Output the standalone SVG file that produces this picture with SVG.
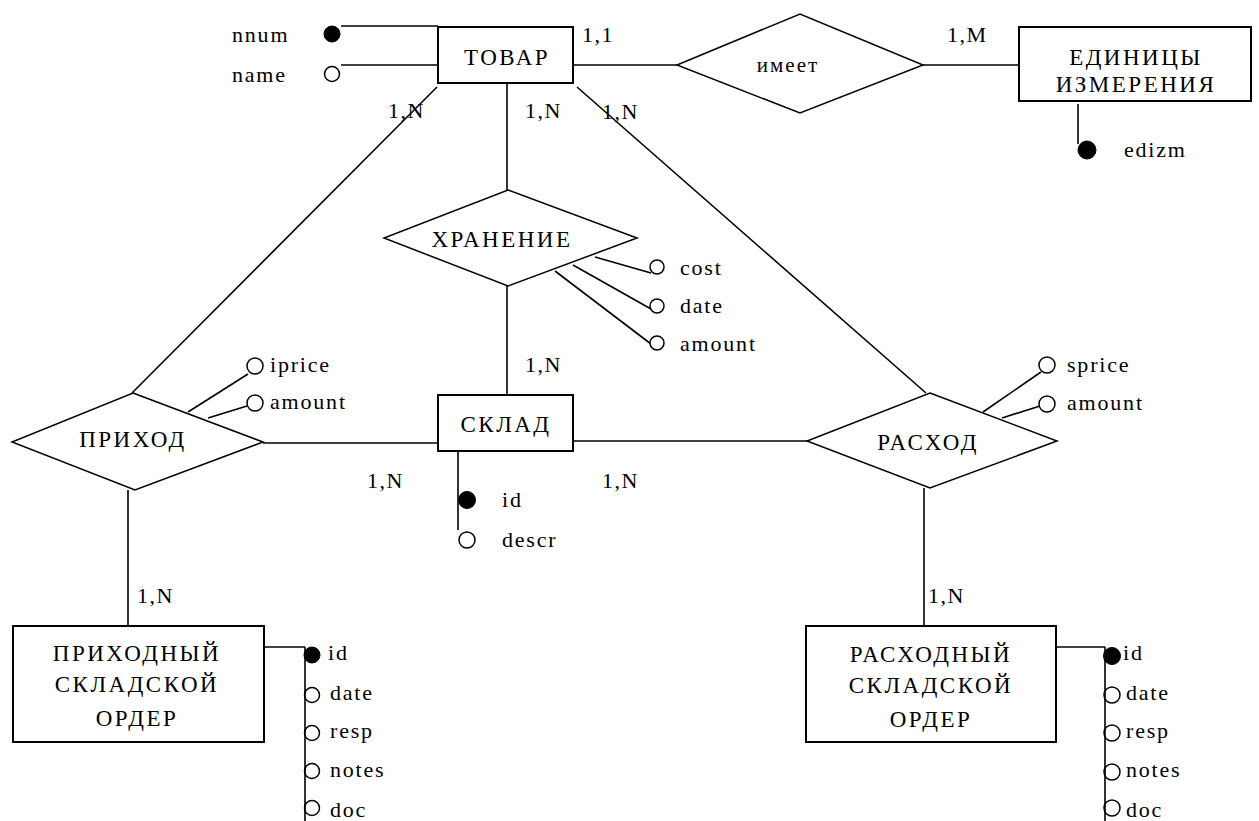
<svg xmlns="http://www.w3.org/2000/svg" width="1259" height="821" viewBox="0 0 1259 821" font-family="'Liberation Serif', 'Times New Roman', 'DejaVu Serif', serif">
<style>
text{fill:#000}
.ent{font-size:23px;letter-spacing:2.5px;text-anchor:middle}
.att{font-size:22px;letter-spacing:1.8px}
.card{font-size:22px;letter-spacing:1.5px}
.rel{font-size:21px;letter-spacing:2px;text-anchor:middle}
.box{fill:#fff;stroke:#000;stroke-width:2}
.dia{fill:#fff;stroke:#000;stroke-width:1.5}
.ln{stroke:#000;stroke-width:1.6;fill:none}
.key{fill:#000;stroke:#000;stroke-width:1}
.opt{fill:#fff;stroke:#000;stroke-width:1.5}
.optn{fill:none;stroke:#000;stroke-width:1.5}
</style>
<rect width="1259" height="821" fill="#fff"/>
<g id="connectors">
<line class="ln" x1="574" y1="65" x2="677" y2="65"/>
<line class="ln" x1="923" y1="65" x2="1019" y2="65"/>
<line class="ln" x1="507" y1="83" x2="507" y2="190"/>
<line class="ln" x1="507" y1="286" x2="507" y2="395"/>
<line class="ln" x1="437" y1="87" x2="132" y2="393"/>
<line class="ln" x1="577" y1="87" x2="926" y2="393"/>
<line class="ln" x1="263" y1="443" x2="438" y2="443"/>
<line class="ln" x1="573" y1="441" x2="807" y2="441"/>
<line class="ln" x1="128" y1="490" x2="128" y2="626"/>
<line class="ln" x1="924" y1="488" x2="924" y2="626"/>
<text class="card" x="582" y="42">1,1</text>
<text class="card" x="947" y="42">1,M</text>
<text class="card" x="388" y="118">1,N</text>
<text class="card" x="525" y="118">1,N</text>
<text class="card" x="602" y="119">1,N</text>
<text class="card" x="525" y="372">1,N</text>
<text class="card" x="367" y="488">1,N</text>
<text class="card" x="602" y="488">1,N</text>
<text class="card" x="137" y="603">1,N</text>
<text class="card" x="928" y="603">1,N</text>
</g>
<g id="tovar">
<line class="ln" x1="341" y1="26" x2="438" y2="26"/>
<line class="ln" x1="341" y1="65" x2="438" y2="65"/>
<circle class="key" cx="332" cy="34" r="8"/>
<circle class="opt" cx="332" cy="74" r="7.5"/>
<text class="att" x="232" y="42">nnum</text>
<text class="att" x="232" y="82">name</text>
<rect class="box" x="438" y="27" width="135" height="56"/>
<text class="ent" x="507" y="65">ТОВАР</text>
</g>
<g id="imeet">
<polygon class="dia" points="677,65 800,14 923,65 800,113"/>
<text class="rel" x="788" y="72">имеет</text>
</g>
<g id="edinicy">
<rect class="box" x="1019" y="27" width="232" height="74"/>
<text class="ent" x="1136" y="65">ЕДИНИЦЫ</text>
<text class="ent" x="1136" y="92">ИЗМЕРЕНИЯ</text>
<line class="ln" x1="1078" y1="104" x2="1078" y2="144"/>
<circle class="key" cx="1087" cy="150" r="9"/>
<text class="att" x="1124" y="157">edizm</text>
</g>
<g id="hranenie">
<polygon class="dia" points="508,190 637,238 508,286 384,238"/>
<text class="ent" x="502" y="247">ХРАНЕНИЕ</text>
<line class="ln" x1="595" y1="257" x2="651" y2="273"/>
<line class="ln" x1="573" y1="265" x2="651" y2="309"/>
<line class="ln" x1="555" y1="271" x2="651" y2="344"/>
<circle class="opt" cx="657" cy="267" r="7"/>
<circle class="opt" cx="657" cy="306" r="7"/>
<circle class="opt" cx="657" cy="343" r="7"/>
<text class="att" x="680" y="275">cost</text>
<text class="att" x="680" y="313">date</text>
<text class="att" x="680" y="351">amount</text>
</g>
<g id="prihod">
<polygon class="dia" points="133,393 263,442 135,490 12,442"/>
<text class="ent" x="133" y="447">ПРИХОД</text>
<line class="ln" x1="188" y1="412" x2="248" y2="374"/>
<line class="ln" x1="208" y1="418" x2="247" y2="406"/>
<circle class="opt" cx="255" cy="366" r="8"/>
<circle class="opt" cx="255" cy="403" r="8"/>
<text class="att" x="270" y="372">iprice</text>
<text class="att" x="270" y="409">amount</text>
</g>
<g id="sklad">
<rect class="box" x="438" y="395" width="135" height="56"/>
<text class="ent" x="506" y="432">СКЛАД</text>
<line class="ln" x1="458" y1="451" x2="458" y2="530"/>
<circle class="key" cx="467" cy="500" r="8.5"/>
<circle class="opt" cx="467" cy="540" r="8"/>
<text class="att" x="502" y="507">id</text>
<text class="att" x="502" y="547">descr</text>
</g>
<g id="rashod">
<polygon class="dia" points="930,393 1057,441 930,488 807,441"/>
<text class="ent" x="928" y="450">РАСХОД</text>
<line class="ln" x1="983" y1="412" x2="1041" y2="372"/>
<line class="ln" x1="1002" y1="418" x2="1040" y2="406"/>
<circle class="opt" cx="1047" cy="365" r="8"/>
<circle class="opt" cx="1047" cy="404" r="8"/>
<text class="att" x="1067" y="372">sprice</text>
<text class="att" x="1067" y="410">amount</text>
</g>
<g id="prihodny-order">
<rect class="box" x="13" y="626" width="251" height="116"/>
<text class="ent" x="137" y="661">ПРИХОДНЫЙ</text>
<text class="ent" x="137" y="692">СКЛАДСКОЙ</text>
<text class="ent" x="137" y="726">ОРДЕР</text>
<line class="ln" x1="264" y1="647" x2="305" y2="647"/>
<circle class="key" cx="312" cy="655" r="8"/>
<circle class="optn" cx="312" cy="695" r="7.5"/>
<circle class="optn" cx="312" cy="733" r="7.5"/>
<circle class="optn" cx="312" cy="771" r="7.5"/>
<circle class="optn" cx="312" cy="808" r="7.5"/>
<line class="ln" x1="305" y1="647" x2="305" y2="821"/>
<text class="att" x="328" y="660">id</text>
<text class="att" x="330" y="700">date</text>
<text class="att" x="330" y="738">resp</text>
<text class="att" x="330" y="777">notes</text>
<text class="att" x="330" y="817">doc</text>
</g>
<g id="rashodny-order">
<rect class="box" x="806" y="626" width="250" height="116"/>
<text class="ent" x="931" y="662">РАСХОДНЫЙ</text>
<text class="ent" x="931" y="693">СКЛАДСКОЙ</text>
<text class="ent" x="931" y="727">ОРДЕР</text>
<line class="ln" x1="1056" y1="647" x2="1105" y2="647"/>
<circle class="key" cx="1112" cy="656" r="8.5"/>
<circle class="optn" cx="1112" cy="695" r="8"/>
<circle class="optn" cx="1112" cy="733" r="8"/>
<circle class="optn" cx="1112" cy="772" r="8"/>
<circle class="optn" cx="1112" cy="808" r="8"/>
<line class="ln" x1="1105" y1="647" x2="1105" y2="821"/>
<text class="att" x="1123" y="660">id</text>
<text class="att" x="1126" y="700">date</text>
<text class="att" x="1126" y="738">resp</text>
<text class="att" x="1126" y="777">notes</text>
<text class="att" x="1126" y="817">doc</text>
</g>
</svg>
